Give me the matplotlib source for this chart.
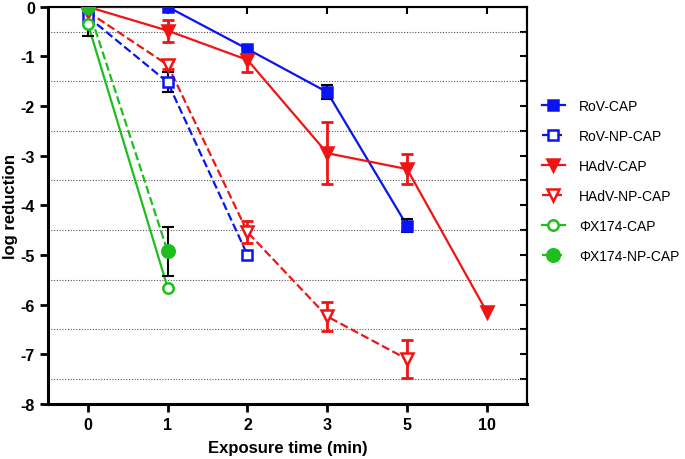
import numpy as np
import matplotlib
matplotlib.use('Agg')
import matplotlib.pyplot as plt
from matplotlib.lines import Line2D

plt.rcParams['font.family'] = ['Liberation Sans', 'DejaVu Sans']

# exposure times (categorical axis)
times = ['0', '1', '2', '3', '5', '10']

# RoV-CAP
rov_x = [0, 1, 2, 3, 5]
rov_y = [0.0, 0.0, -0.85, -1.72, -4.41]
rov_err = [0.0, 0.0, 0.0, 0.14, 0.13]

# RoV-NP-CAP
rovnp_x = [0, 1, 2]
rovnp_y = [-0.2, -1.52, -5.0]
rovnp_err = [0.0, 0.2, 0.0]

# HAdV-CAP
hadv_x = [0, 1, 2, 3, 5, 10]
hadv_y = [0.0, -0.48, -1.07, -2.95, -3.27, -6.15]
hadv_err = [0.0, 0.22, 0.24, 0.63, 0.3, 0.0]

# HAdV-NP-CAP
hadvnp_x = [0, 1, 2, 3, 5]
hadvnp_y = [-0.1, -1.17, -4.54, -6.24, -7.1]
hadvnp_err = [0.0, 0.08, 0.22, 0.3, 0.38]

# PhiX174-CAP
phix_x = [0, 1]
phix_y = [-0.34, -5.66]
phix_err = [0.25, 0.0]

# PhiX174-NP-CAP
phixnp_x = [0, 1]
phixnp_y = [0.0, -4.93]
phixnp_err = [0.0, 0.49]

blue = '#0a14f0'
red = '#f01414'
green = '#1ebe1e'

fig = plt.figure(figsize=(6.85, 4.6), dpi=100)
ax = fig.add_axes([0.070, 0.12, 0.699, 0.863])

pos = {t: i for i, t in enumerate(times)}


def xpos(xs):
    return [pos[str(x)] for x in xs]


series = [
    ('RoV-CAP', rov_x, rov_y, rov_err, blue, '-', 's', blue, 6.5, 'k'),
    ('RoV-NP-CAP', rovnp_x, rovnp_y, rovnp_err, blue, '--', 's', 'white', 6.5, 'k'),
    ('HAdV-CAP', hadv_x, hadv_y, hadv_err, red, '-', 'v', red, 8, red),
    ('HAdV-NP-CAP', hadvnp_x, hadvnp_y, hadvnp_err, red, '--', 'v', 'white', 8, red),
    ('\u03a6X174-CAP', phix_x, phix_y, phix_err, green, '-', 'o', 'white', 7.5, 'k'),
    ('\u03a6X174-NP-CAP', phixnp_x, phixnp_y, phixnp_err, green, '--', 'o', green, 9, 'k'),
]

handles = []
for name, xs, ys, errs, col, ls, mk, mfc, ms, ecol in series:
    xp = xpos(xs)
    ax.plot(xp, ys, color=col, ls=ls, lw=1.6, zorder=3)
    e = np.array(errs)
    mask = e > 0
    if mask.any():
        ax.errorbar(np.array(xp)[mask], np.array(ys)[mask], yerr=e[mask],
                    fmt='none', ecolor=ecol, elinewidth=2 if ecol != 'k' else 1.5,
                    capsize=4, capthick=2 if ecol != 'k' else 1.5, zorder=4)
    ax.plot(xp, ys, ls='none', marker=mk, ms=ms, mfc=mfc, mec=col, mew=1.8, zorder=5)
    handles.append(Line2D([], [], color=col, ls=ls, lw=1.6, marker=mk, ms=ms,
                          mfc=mfc, mec=col, mew=1.8))

# dotted grid at half units
for g in np.arange(-7.5, 0, 1.0):
    ax.axhline(g, color='#555555', ls=(0, (1, 1.5)), lw=0.8, zorder=1)

ax.set_xlim(-0.5, 5.5)
ax.set_ylim(-8, 0)
ax.set_xticks(range(len(times)))
ax.set_xticklabels(times)
ax.set_yticks(np.arange(-8, 1, 1))
ax.set_yticklabels([str(v) for v in range(-8, 1)])
for lab in ax.get_xticklabels() + ax.get_yticklabels():
    lab.set_fontweight('bold')
    lab.set_fontsize(11.5)
ax.tick_params(direction='out', length=6, width=2)

for s in ax.spines.values():
    s.set_linewidth(1.5)
ax.spines['left'].set_linewidth(2.2)
ax.spines['bottom'].set_linewidth(2.2)

sy = ax.secondary_yaxis('right')
sy.set_yticks(np.arange(-8, 0.01, 0.5))
sy.tick_params(direction='in', length=5, width=1.5, labelright=False)
sy.spines['right'].set_linewidth(1.5)
sx = ax.secondary_xaxis('top')
sx.set_xticks(range(len(times)))
sx.tick_params(direction='in', length=5, width=1.5, labeltop=False)

ax.set_xlabel('Exposure time (min)', fontsize=12, fontweight='bold', labelpad=6)
ax.set_ylabel('log reduction', fontsize=12, fontweight='bold', labelpad=2)

ax.legend(handles, [s[0] for s in series], loc='upper left',
          bbox_to_anchor=(1.005, 0.80), frameon=False, fontsize=10,
          handlelength=1.7, labelspacing=1.15, handletextpad=1.0)

fig.savefig('out.png', dpi=100)
